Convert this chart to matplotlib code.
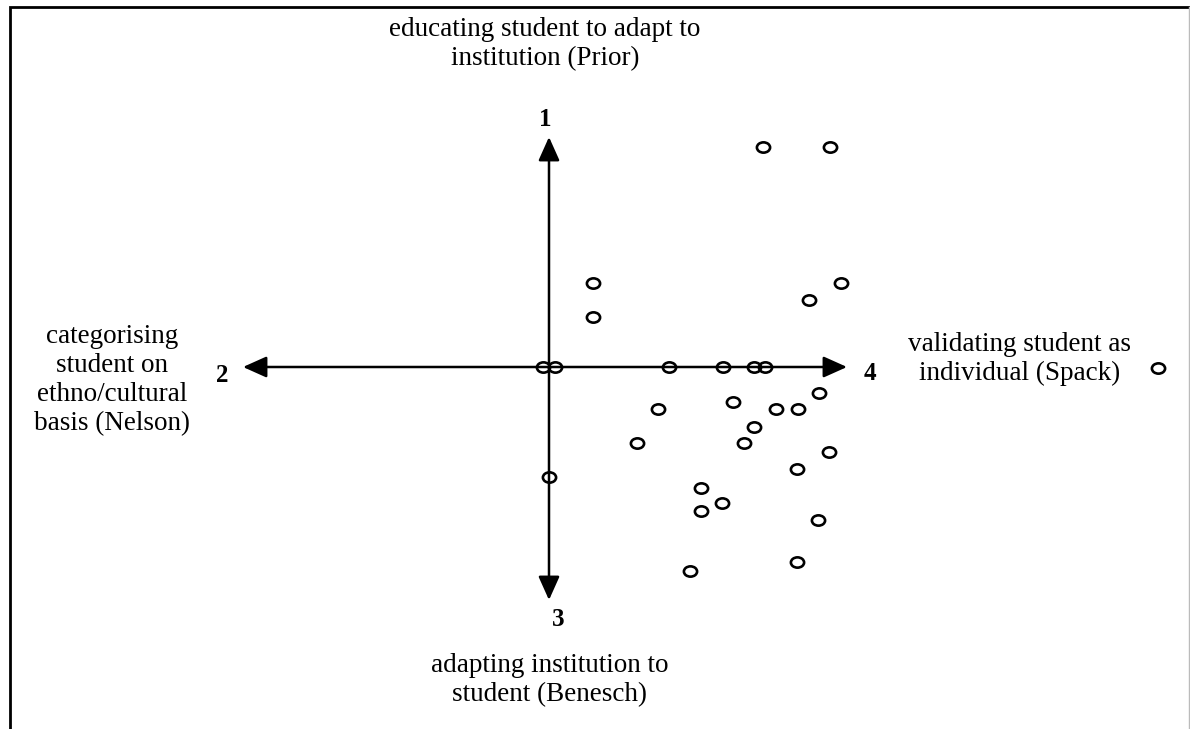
import numpy as np
import matplotlib.pyplot as plt
from matplotlib.path import Path

# positions relative to axis crossing (arbitrary units)
x_vals = [21.4, 28.1, 4.4, 4.4, 29.2, 26.0,
          -0.6, 0.6, 12.0, 17.4, 20.5, 21.6,
          27.0, 10.9, 18.4, 22.7, 24.9, 20.5, 8.8, 19.5, 28.0, 24.8,
          0.0, 15.2, 17.3, 15.2, 26.9, 24.8, 14.1, 60.9]
y_vals = [22.0, 22.0, 8.4, 5.0, 8.4, 6.7,
          0.0, 0.0, 0.0, 0.0, 0.0, 0.0,
          -2.6, -4.2, -3.5, -4.2, -4.2, -6.0, -7.6, -7.6, -8.5, -10.2,
          -11.0, -12.1, -13.6, -14.4, -15.3, -19.5, -20.4, -0.1]

axis_ends = {"1": (0, 23.0), "2": (-30.6, 0), "3": (0, -23.3), "4": (29.8, 0)}

labels = {
    "1": "educating student to adapt to\ninstitution (Prior)",
    "2": "categorising\nstudent on\nethno/cultural\nbasis (Nelson)",
    "3": "adapting institution to\nstudent (Benesch)",
    "4": "validating student as\nindividual (Spack)",
}

plt.rcParams['font.family'] = ['Liberation Serif', 'DejaVu Serif']

fig = plt.figure(figsize=(11.9, 7.29), dpi=100)
ax = fig.add_axes([0, 0, 1, 1])
ax.set_xlim(-54.9, 64.1)
ax.set_ylim(-36.2, 36.7)
ax.axis('off')

# frame (left, top, right edges)
ax.plot([-53.9, -53.9, 64.1], [-36.2, 36.0, 36.0], color='black', lw=2.0,
        solid_joinstyle='miter')
ax.plot([63.95, 63.95], [36.0, -36.2], color='#bbbbbb', lw=1.0)

# axes arrows
for key, (ex, ey) in axis_ends.items():
    ax.annotate("", xy=(ex, ey), xytext=(0, 0),
                arrowprops=dict(arrowstyle='-|>,head_length=1.45,head_width=0.65',
                                color='black', lw=1.8, shrinkA=0, shrinkB=0))

# elliptical open markers
circ = Path.unit_circle()
ell = Path(circ.vertices * np.array([1.0, 0.78]), circ.codes)
ax.plot(x_vals, y_vals, linestyle='none', marker=ell, markersize=9.5,
        markerfacecolor='none', markeredgecolor='black', markeredgewidth=1.9)

# axis numbers
num_kw = dict(fontsize=18, fontweight='bold', ha='center', va='center')
ax.text(-0.4, 24.7, "1", **num_kw)
ax.text(-32.7, -0.9, "2", **num_kw)
ax.text(0.9, -25.3, "3", **num_kw)
ax.text(32.1, -0.6, "4", **num_kw)

# pole descriptions
lab_kw = dict(fontsize=19.5, ha='center', va='center', linespacing=1.2)
ax.text(-0.4, 32.3, labels["1"], **lab_kw)
ax.text(-43.7, -1.3, labels["2"], **lab_kw)
ax.text(0.1, -31.3, labels["3"], **lab_kw)
ax.text(47.1, 0.8, labels["4"], **lab_kw)

fig.savefig("out.png", dpi=100)
